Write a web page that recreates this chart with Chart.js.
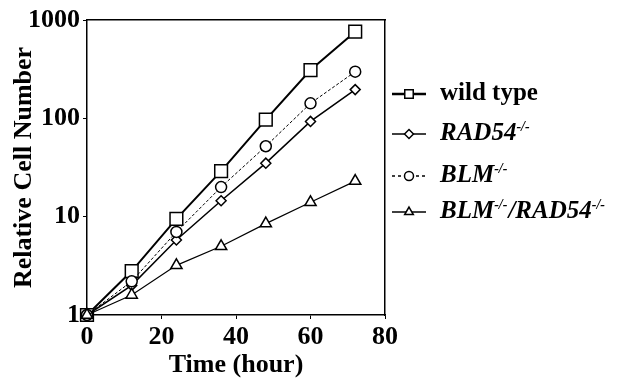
<!DOCTYPE html>
<html><head><meta charset="utf-8">
<script src="https://cdn.jsdelivr.net/npm/chart.js@4"></script>
<style>html,body{margin:0;padding:0;background:#fff}#wrap{width:633px;height:381px;position:relative}</style>
</head><body><div id="wrap"><canvas id="c" width="633" height="381"></canvas></div>
<script>
const hours = [0, 12, 24, 36, 48, 60, 72];
const wildType = [1, 2.8, 9.5, 29, 97, 310, 760];
const rad54 = [1, 2.0, 5.8, 14.5, 35, 93, 196];
const blm = [1, 2.2, 7.0, 20, 52, 142, 298];
const blmRad54 = [1, 1.6, 3.2, 5.0, 8.5, 14, 23];
const xTicks = [0, 20, 40, 60, 80];
const yTicks = [1, 10, 100, 1000];
const legendNames = [["wild type", ""], ["RAD54", "-/-"], ["BLM", "-/-"], ["BLM", "-/-", "/RAD54", "-/-"]];

const serif = "'Liberation Serif','Times New Roman',serif";
function pts(arr){ return hours.map((h,i)=>({x:h,y:arr[i]})); }
const styles = [
  {data:wildType, pointStyle:'rect', pointRadius:9, borderWidth:2, borderDash:[], legR:6},
  {data:rad54, pointStyle:'rectRot', pointRadius:5, borderWidth:1.5, borderDash:[], legR:4.5},
  {data:blm, pointStyle:'circle', pointRadius:5.5, borderWidth:1, borderDash:[3,2], legR:4.5},
  {data:blmRad54, pointStyle:'triangle', pointRadius:6.5, borderWidth:1.2, borderDash:[], legR:5}
];
const datasets = styles.map((s,i)=>({
  label: legendNames[i].join(''),
  data: pts(s.data),
  borderColor:'#000', backgroundColor:'#fff',
  borderWidth:s.borderWidth, borderDash:s.borderDash,
  pointStyle:s.pointStyle, pointRadius:s.pointRadius,
  pointBorderWidth:1.5, pointBackgroundColor:'#fff', pointBorderColor:'#000',
  clip:false, tension:0
})).reverse();

const legendPlugin = {
  id:'customLegend',
  afterDraw(chart){
    const ctx = chart.ctx, ca = chart.chartArea;
    const ys = [94, 134, 176, 212];
    const x0 = ca.right + 7, x1 = ca.right + 41, xm = (x0+x1)/2, xt = ca.right + 55;
    ctx.save();
    styles.forEach((s,i)=>{
      const y = ys[i];
      ctx.strokeStyle = '#000';
      ctx.lineWidth = i === 0 ? 2.5 : 1.5;
      ctx.setLineDash(s.borderDash.length ? [3,3] : []);
      ctx.beginPath(); ctx.moveTo(x0,y); ctx.lineTo(x1,y); ctx.stroke();
      ctx.setLineDash([]);
      ctx.fillStyle = '#fff';
      ctx.lineWidth = 1.5;
      Chart.helpers.drawPoint(ctx, {pointStyle:s.pointStyle, radius: s.legR, borderWidth:1.5}, xm, y);
      ctx.fillStyle = '#000';
      ctx.textBaseline = 'middle';
      ctx.textAlign = 'left';
      let x = xt;
      const parts = legendNames[i];
      parts.forEach((p,j)=>{
        if(!p) return;
        const sup = j % 2 === 1;
        const it = i === 0 ? '' : 'italic ';
        ctx.font = it + 'bold ' + (sup ? 14 : 25) + 'px ' + serif;
        ctx.fillText(p, x, sup ? y - 7 : y);
        x += ctx.measureText(p).width + (sup ? 1 : 0);
      });
    });
    ctx.restore();
  }
};

new Chart(document.getElementById('c'), {
  type:'line',
  data:{datasets},
  options:{
    responsive:false, animation:false,
    layout:{padding:{top:20, right:248, left:0, bottom:0}},
    plugins:{legend:{display:false}, tooltip:{enabled:false}},
    scales:{
      x:{type:'linear', min:0, max:80,
        afterBuildTicks(s){ s.ticks = xTicks.map(v=>({value:v})); },
        afterFit(s){ s.height = 66; },
        grid:{drawOnChartArea:false, drawTicks:true, tickLength:4, color:'#000', tickColor:'#000'},
        border:{display:true, color:'#000', width:1.5},
        ticks:{color:'#000', padding:3, maxRotation:0, font:{family:serif, size:26, weight:'bold'}},
        title:{display:true, text:'Time (hour)', color:'#000', padding:{top:0,bottom:0}, font:{family:serif, size:26, weight:'bold'}}
      },
      y:{type:'logarithmic', min:1, max:1000,
        afterBuildTicks(s){ s.ticks = yTicks.map(v=>({value:v, major:true})); },
        afterFit(s){ s.width = 87; },
        grid:{drawOnChartArea:false, drawTicks:true, tickLength:4, color:'#000', tickColor:'#000'},
        border:{display:true, color:'#000', width:1.5},
        ticks:{color:'#000', padding:3, font:{family:serif, size:26, weight:'bold'}, callback:(v)=>String(v)},
        title:{display:true, text:'Relative Cell Number', color:'#000', padding:{top:9,bottom:0}, font:{family:serif, size:26, weight:'bold'}}
      },
      x2:{type:'linear', position:'top', min:0, max:80, display:true,
        grid:{display:false, drawTicks:false}, border:{display:true,color:'#000',width:1.5},
        ticks:{display:false}, afterFit(s){ s.height = 0; }},
      y2:{type:'linear', position:'right', min:0, max:1, display:true,
        grid:{display:false, drawTicks:false}, border:{display:true,color:'#000',width:1.5},
        ticks:{display:false}, afterFit(s){ s.width = 0; }}
    }
  },
  plugins:[legendPlugin]
});
</script></body></html>
